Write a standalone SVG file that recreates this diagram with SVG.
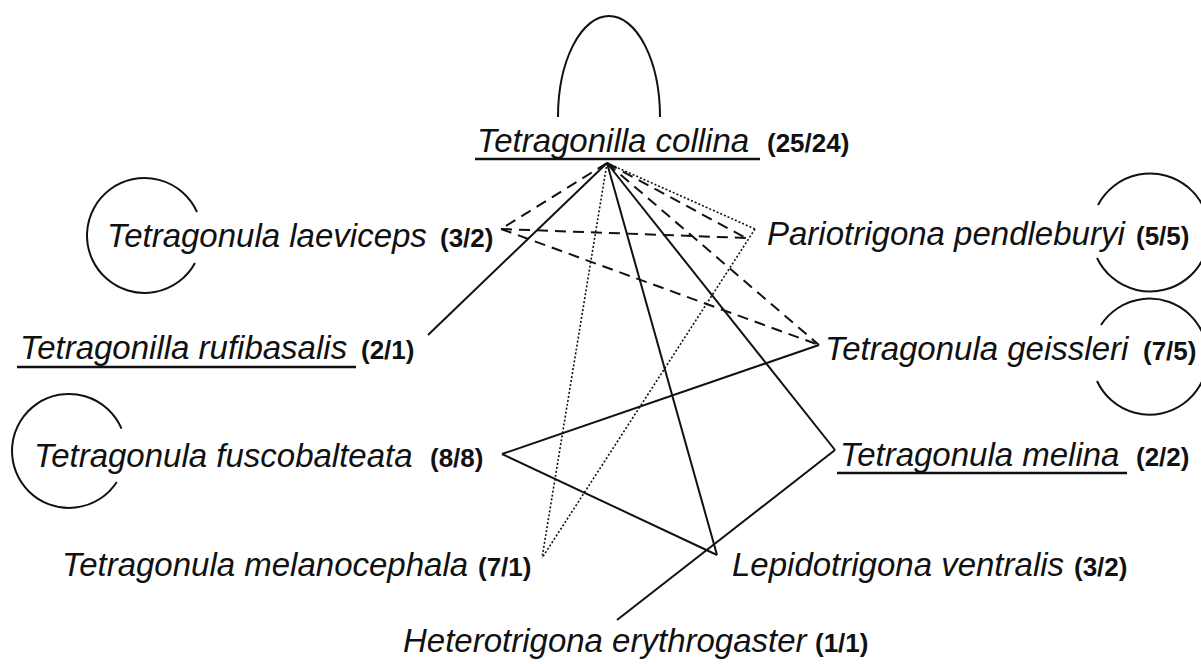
<svg xmlns="http://www.w3.org/2000/svg" width="1201" height="664" viewBox="0 0 1201 664">
<style>
.name{font-family:"Liberation Sans",Arial,sans-serif;font-style:italic;font-size:33px;fill:#111}
.cnt{font-family:"Liberation Sans",Arial,sans-serif;font-weight:bold;font-size:26px;fill:#111}
.ul{stroke:#111;stroke-width:2.5}
.loop{fill:none;stroke:#111;stroke-width:2}
.solid{fill:none;stroke:#111;stroke-width:2}
.dash{fill:none;stroke:#111;stroke-width:2;stroke-dasharray:11 7}
.dot{fill:none;stroke:#111;stroke-width:1.6;stroke-dasharray:2 2}
</style>
<rect width="1201" height="664" fill="#fff"/>
<g id="connectors">
  <line class="solid" x1="607" y1="163" x2="428" y2="335"/>
  <line class="solid" x1="607" y1="163" x2="717" y2="555"/>
  <line class="solid" x1="607" y1="163" x2="835" y2="450"/>
  <line class="solid" x1="835" y1="450" x2="617" y2="620"/>
  <line class="solid" x1="819" y1="345" x2="502" y2="454"/>
  <line class="solid" x1="502" y1="454" x2="717" y2="555"/>
  <line class="dash" x1="607" y1="163" x2="501" y2="229"/>
  <line class="dash" x1="607" y1="163" x2="746" y2="238"/>
  <line class="dash" x1="607" y1="163" x2="819" y2="345"/>
  <line class="dash" x1="501" y1="229" x2="746" y2="238"/>
  <line class="dash" x1="501" y1="229" x2="819" y2="345"/>
  <line class="dot" x1="607" y1="163" x2="755" y2="229"/>
  <line class="dot" x1="755" y1="229" x2="542" y2="558"/>
  <line class="dot" x1="607" y1="163" x2="542" y2="558"/>
</g>
<g id="collina">
  <path class="loop" d="M558,117 A51,101 0 0 1 660,117"/>
  <text class="name" x="477" y="152">Tetragonilla collina</text>
  <line class="ul" x1="475" y1="159" x2="760" y2="159"/>
  <text class="cnt" x="767" y="152">(25/24)</text>
</g>
<g id="laeviceps">
  <path class="loop" d="M197,212 A57.5,57.5 0 1 0 195,263"/>
  <text class="name" x="107" y="247">Tetragonula laeviceps</text>
  <text class="cnt" x="440" y="247">(3/2)</text>
</g>
<g id="pendleburyi">
  <path class="loop" d="M1098,205 A59,59 0 1 1 1097,258"/>
  <text class="name" x="767" y="245">Pariotrigona pendleburyi</text>
  <text class="cnt" x="1136" y="245">(5/5)</text>
</g>
<g id="rufibasalis">
  <text class="name" x="20" y="359">Tetragonilla rufibasalis</text>
  <line class="ul" x1="17" y1="367" x2="356" y2="367"/>
  <text class="cnt" x="361" y="359">(2/1)</text>
</g>
<g id="geissleri">
  <path class="loop" d="M1101,325 A58,58 0 1 1 1097,381"/>
  <text class="name" x="825" y="360">Tetragonula geissleri</text>
  <text class="cnt" x="1143" y="360">(7/5)</text>
</g>
<g id="fuscobalteata">
  <path class="loop" d="M121.5,428.7 A57,57 0 1 0 116.8,482"/>
  <text class="name" x="34" y="467">Tetragonula fuscobalteata</text>
  <text class="cnt" x="430" y="467">(8/8)</text>
</g>
<g id="melina">
  <text class="name" x="840" y="466">Tetragonula melina</text>
  <line class="ul" x1="837" y1="473" x2="1127" y2="473"/>
  <text class="cnt" x="1136" y="466">(2/2)</text>
</g>
<g id="melanocephala">
  <text class="name" x="62" y="576">Tetragonula melanocephala</text>
  <text class="cnt" x="478" y="576">(7/1)</text>
</g>
<g id="ventralis">
  <text class="name" x="732" y="576">Lepidotrigona ventralis</text>
  <text class="cnt" x="1074" y="576">(3/2)</text>
</g>
<g id="erythrogaster">
  <text class="name" x="403" y="652">Heterotrigona erythrogaster</text>
  <text class="cnt" x="815" y="652">(1/1)</text>
</g>
</svg>
